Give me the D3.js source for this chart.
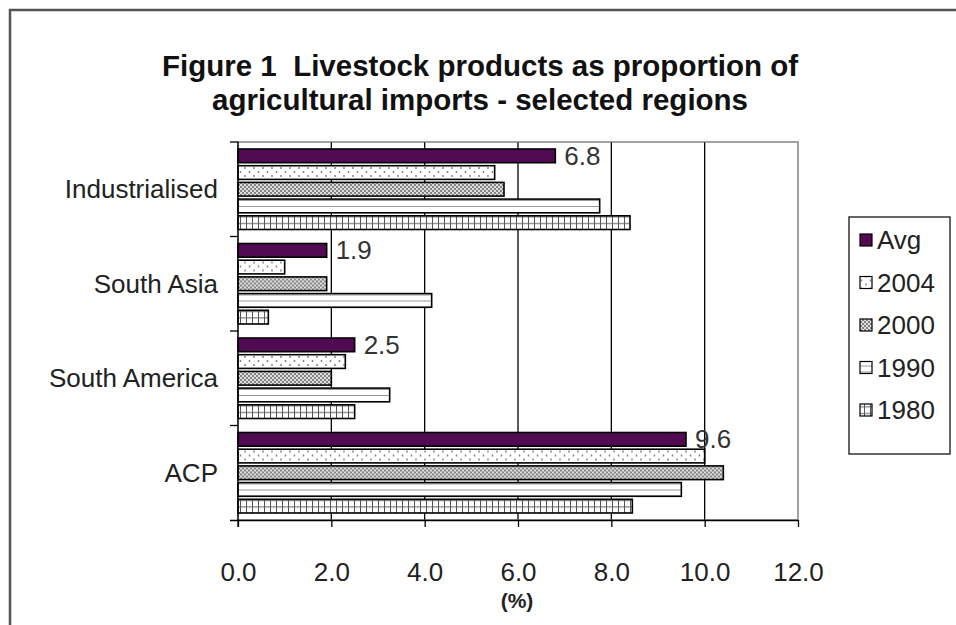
<!DOCTYPE html>
<html>
<head>
<meta charset="utf-8">
<script src="https://cdn.jsdelivr.net/npm/d3@7/dist/d3.min.js"></script>
<style>
  body { margin: 0; background: #fff; }
  svg { display: block; font-family: "Liberation Sans", Arial, sans-serif; }
</style>
</head>
<body>
<svg id="chart" width="956" height="625"></svg>
<script>
// regions top to bottom, series top to bottom inside each region
let regions = ['Industrialised', 'South Asia', 'South America', 'ACP'];
let seriesNames = ['Avg', '2004', '2000', '1990', '1980'];

let avgValues = [6.8, 1.9, 2.5, 9.6];
let values2004 = [5.5, 1.0, 2.3, 10.0];
let values2000 = [5.7, 1.9, 2.0, 10.4];
let values1990 = [7.75, 4.15, 3.25, 9.5];
let values1980 = [8.4, 0.65, 2.5, 8.45];

let xTicks = [0, 2, 4, 6, 8, 10, 12];

let seriesValues = [avgValues, values2004, values2000, values1990, values1980];

let svg = d3.select('#chart');
let defs = svg.append('defs');

// fill patterns, excel style
let pDots = defs.append('pattern').attr('id', 'p2004')
  .attr('patternUnits', 'userSpaceOnUse').attr('width', 9).attr('height', 8);
pDots.append('rect').attr('width', 9).attr('height', 8).attr('fill', '#fff');
pDots.append('circle').attr('cx', 2).attr('cy', 2).attr('r', 0.9).attr('fill', '#777');
pDots.append('circle').attr('cx', 6.5).attr('cy', 6).attr('r', 0.9).attr('fill', '#777');

let pCheck = defs.append('pattern').attr('id', 'p2000')
  .attr('patternUnits', 'userSpaceOnUse').attr('width', 4).attr('height', 4);
pCheck.append('rect').attr('width', 4).attr('height', 4).attr('fill', '#dedede');
pCheck.append('rect').attr('width', 2).attr('height', 2).attr('fill', '#858585');
pCheck.append('rect').attr('x', 2).attr('y', 2).attr('width', 2).attr('height', 2).attr('fill', '#858585');

let pHoriz = defs.append('pattern').attr('id', 'p1990')
  .attr('patternUnits', 'userSpaceOnUse').attr('width', 8).attr('height', 6);
pHoriz.append('rect').attr('width', 8).attr('height', 6).attr('fill', '#fff');
pHoriz.append('line').attr('x1', 0).attr('x2', 8).attr('y1', 4.5).attr('y2', 4.5)
  .attr('stroke', '#999').attr('stroke-width', 1);

let pGrid = defs.append('pattern').attr('id', 'p1980')
  .attr('patternUnits', 'userSpaceOnUse').attr('width', 6).attr('height', 6.5);
pGrid.append('rect').attr('width', 6).attr('height', 6.5).attr('fill', '#fff');
pGrid.append('path').attr('d', 'M0.5,0V6.5M0,3.5H6')
  .attr('stroke', '#555').attr('stroke-width', 1).attr('fill', 'none');

let seriesFill = d3.scaleOrdinal()
  .domain(seriesNames)
  .range(['#520a52', 'url(#p2004)', 'url(#p2000)', 'url(#p1990)', 'url(#p1980)']);

// outer frame (cropped on right and bottom)
svg.append('path')
  .attr('d', 'M10,625V10H956')
  .attr('fill', 'none').attr('stroke', '#555').attr('stroke-width', 2.5);

// title
let title = svg.append('text')
  .attr('text-anchor', 'middle')
  .attr('font-weight', 'bold')
  .attr('font-size', 29.5)
  .attr('fill', '#111');
title.append('tspan').attr('x', 480).attr('y', 76).text('Figure 1\u00a0 Livestock products as proportion of');
title.append('tspan').attr('x', 480).attr('y', 110).text('agricultural imports - selected regions');

let x = d3.scaleLinear().domain([0, 12]).range([238, 798]);
let y0 = d3.scaleBand().domain(regions).range([142, 520]);
let y1 = d3.scaleBand().domain(seriesNames)
  .range([7, y0.bandwidth() - 7]).paddingInner(0.18);

// gridlines
svg.append('g').selectAll('line')
  .data(xTicks.slice(1, -1))
  .enter().append('line')
  .attr('x1', d => x(d)).attr('x2', d => x(d))
  .attr('y1', 142).attr('y2', 520)
  .attr('stroke', '#000').attr('stroke-width', 1.3);

// plot area border
svg.append('rect')
  .attr('x', x(0)).attr('y', 142)
  .attr('width', x(12) - x(0)).attr('height', 520 - 142)
  .attr('fill', 'none').attr('stroke', '#666').attr('stroke-width', 1.2);

// bars
let groups = svg.append('g').selectAll('g')
  .data(regions)
  .enter().append('g')
  .attr('transform', d => 'translate(0,' + y0(d) + ')');

groups.selectAll('rect')
  .data((r, i) => seriesNames.map((s, k) => ({ series: s, value: seriesValues[k][i] })))
  .enter().append('rect')
  .attr('x', x(0))
  .attr('y', d => y1(d.series))
  .attr('width', d => x(d.value) - x(0))
  .attr('height', y1.bandwidth())
  .attr('fill', d => seriesFill(d.series))
  .attr('stroke', '#000')
  .attr('stroke-width', 1.6);

// value labels on the Avg bars
groups.append('text')
  .attr('x', (r, i) => x(avgValues[i]) + 9)
  .attr('y', y1('Avg') + y1.bandwidth() / 2 + 9)
  .attr('font-size', 26)
  .attr('fill', '#333')
  .text((r, i) => d3.format('.1f')(avgValues[i]));

// x axis
let xAxis = d3.axisBottom(x)
  .tickValues(xTicks)
  .tickFormat(d3.format('.1f'))
  .tickSize(7)
  .tickPadding(36);
let gx = svg.append('g').attr('transform', 'translate(0,520)').call(xAxis);
gx.select('.domain').attr('d', 'M230,0.5H' + x(12));
gx.selectAll('line').attr('stroke', '#000').attr('stroke-width', 1.3);
gx.selectAll('text').attr('font-size', 26).attr('fill', '#222')
  .attr('font-family', '"Liberation Sans", Arial, sans-serif');
gx.select('.domain').attr('stroke', '#000').attr('stroke-width', 1.3);

svg.append('text')
  .attr('x', 517).attr('y', 608)
  .attr('text-anchor', 'middle')
  .attr('font-weight', 'bold').attr('font-size', 21)
  .attr('fill', '#222')
  .text('(%)');

// y axis: line, ticks at band edges, labels at centres
let gy = svg.append('g');
gy.append('line')
  .attr('x1', x(0)).attr('x2', x(0)).attr('y1', 142).attr('y2', 527)
  .attr('stroke', '#000').attr('stroke-width', 1.3);
gy.selectAll('line.tick')
  .data(regions)
  .enter().append('line').attr('class', 'tick')
  .attr('x1', 230).attr('x2', x(0))
  .attr('y1', d => y0(d)).attr('y2', d => y0(d))
  .attr('stroke', '#000').attr('stroke-width', 1.3);
gy.selectAll('text')
  .data(regions)
  .enter().append('text')
  .attr('x', 218)
  .attr('y', d => y0(d) + y0.bandwidth() / 2)
  .attr('dy', '0.35em')
  .attr('text-anchor', 'end')
  .attr('font-size', 26)
  .attr('fill', '#222')
  .text(d => d);

// legend
let legend = svg.append('g');
legend.append('rect')
  .attr('x', 849).attr('y', 217).attr('width', 101).attr('height', 237)
  .attr('fill', '#fff').attr('stroke', '#333').attr('stroke-width', 1.5);

let legendY = d3.scalePoint().domain(seriesNames).range([240, 410]);

let items = legend.selectAll('g.item')
  .data(seriesNames)
  .enter().append('g').attr('class', 'item')
  .attr('transform', d => 'translate(0,' + legendY(d) + ')');

items.append('rect')
  .attr('x', 860).attr('y', -6).attr('width', 12).attr('height', 12)
  .attr('fill', d => seriesFill(d))
  .attr('stroke', '#000').attr('stroke-width', 1.2);

items.append('text')
  .attr('x', 877).attr('dy', '0.36em')
  .attr('font-size', 26)
  .attr('fill', '#222')
  .text(d => d);
</script>
</body>
</html>
